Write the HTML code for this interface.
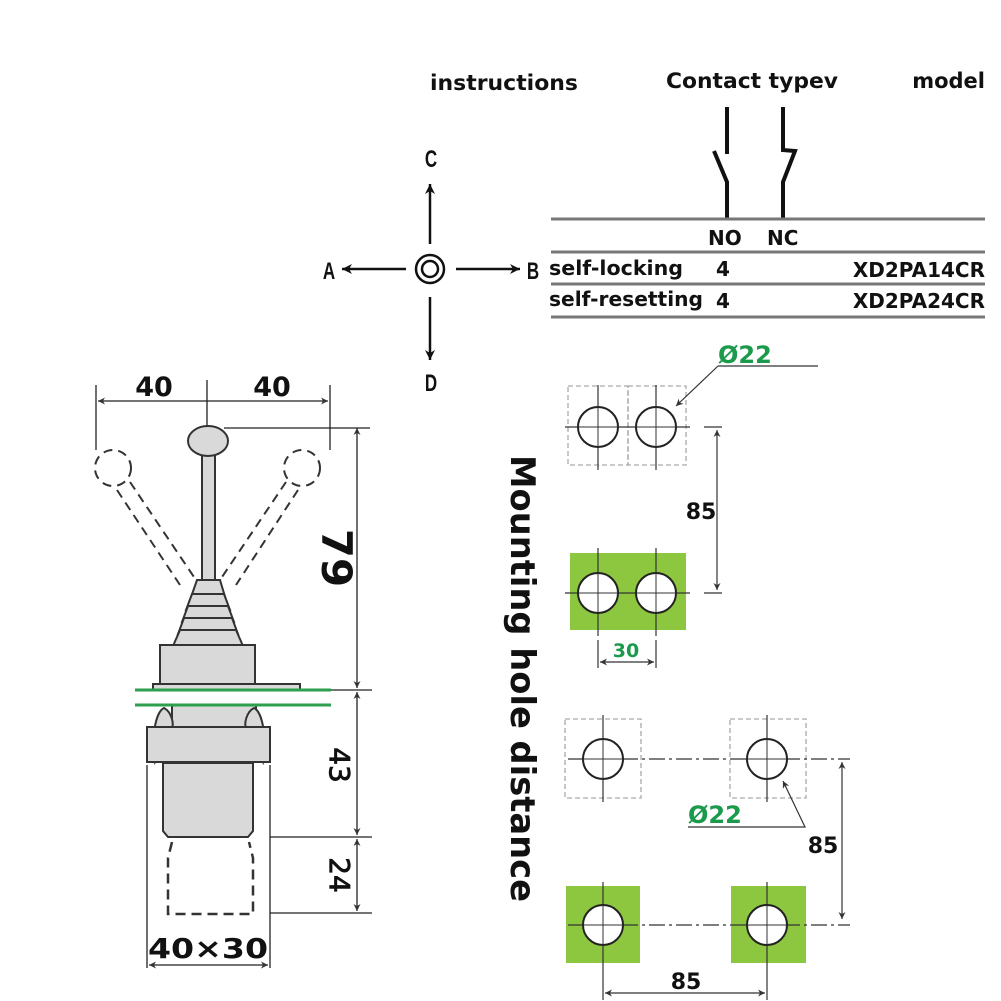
<!DOCTYPE html>
<html><head><meta charset="utf-8"><style>html,body{margin:0;padding:0;background:#fff}svg{display:block}</style></head>
<body>
<svg width="1001" height="1001" viewBox="0 0 1001 1001" xmlns="http://www.w3.org/2000/svg" font-family="'DejaVu Sans','Liberation Sans',sans-serif" font-weight="bold">
<defs>
<marker id="ar" viewBox="0 0 10 10" refX="10" refY="5" markerWidth="12" markerHeight="10" markerUnits="userSpaceOnUse" orient="auto-start-reverse"><path d="M0,0L10,5L0,10L3,5z" fill="#111"/></marker>
<marker id="as" viewBox="0 0 10 10" refX="10" refY="5" markerWidth="10" markerHeight="7" markerUnits="userSpaceOnUse" orient="auto-start-reverse"><path d="M0,0L10,5L0,10L3,5z" fill="#333"/></marker>
</defs>
<!-- headings -->
<text x="430" y="90" font-size="21" fill="#111" textLength="148" lengthAdjust="spacingAndGlyphs">instructions</text>
<text x="666" y="88" font-size="21" fill="#111" textLength="172" lengthAdjust="spacingAndGlyphs">Contact typev</text>
<text x="985" y="88" font-size="21" fill="#111" text-anchor="end">model</text>
<!-- contact symbols -->
<g stroke="#111" stroke-width="4" fill="none">
<path d="M727,107V154"/><path d="M714,151L727,182V219"/>
<path d="M783,107V150L795,151L783,182V219"/>
</g>
<!-- table -->
<g stroke="#777" stroke-width="3">
<path d="M551,219H985M551,252H985M551,284H985M551,317H985"/>
</g>
<text x="708" y="245" font-size="20" fill="#111">NO</text>
<text x="767" y="245" font-size="20" fill="#111">NC</text>
<text x="549" y="275" font-size="20" fill="#111" textLength="134" lengthAdjust="spacingAndGlyphs">self-locking</text>
<text x="716" y="276" font-size="20" fill="#111">4</text>
<text x="985" y="277" font-size="20" fill="#111" text-anchor="end">XD2PA14CR</text>
<text x="549" y="306" font-size="20" fill="#111" textLength="154" lengthAdjust="spacingAndGlyphs">self-resetting</text>
<text x="716" y="308" font-size="20" fill="#111">4</text>
<text x="985" y="308" font-size="20" fill="#111" text-anchor="end">XD2PA24CR</text>
<!-- direction cross -->
<g stroke="#111" stroke-width="2.5" fill="none">
<circle cx="430" cy="269" r="14"/><circle cx="430" cy="269" r="8"/>
<path d="M430,244V184" marker-end="url(#ar)"/>
<path d="M430,297V360" marker-end="url(#ar)"/>
<path d="M406,269H342" marker-end="url(#ar)"/>
<path d="M456,269H520" marker-end="url(#ar)"/>
</g>
<g font-family="'Liberation Sans',sans-serif" font-size="20" fill="#111" text-anchor="middle">
<text transform="translate(431,167) scale(0.85,1.2)">C</text>
<text transform="translate(431,391) scale(0.85,1.2)">D</text>
<text transform="translate(329,279) scale(0.85,1.2)">A</text>
<text transform="translate(533,279) scale(0.85,1.2)">B</text>
</g>
<!-- left drawing -->
<g stroke="#222" stroke-width="1.3" fill="none">
<path d="M96,385V450M207,380V432M330,385V450"/>
<path d="M207,401H98" marker-end="url(#as)"/><path d="M207,401H328" marker-end="url(#as)"/>
<path d="M224,428H370"/>
<path d="M357,428V688" marker-start="url(#as)" marker-end="url(#as)"/>
<path d="M255,690H372M270,837H372M270,913H372"/>
<path d="M357,692V835" marker-start="url(#as)" marker-end="url(#as)"/>
<path d="M357,839V911" marker-start="url(#as)" marker-end="url(#as)"/>
<path d="M147,765V968M270,765V968"/>
<path d="M149,965H268" marker-start="url(#as)" marker-end="url(#as)"/>
</g>
<text x="154" y="396" font-size="27" fill="#111" text-anchor="middle">40</text>
<text x="272" y="396" font-size="27" fill="#111" text-anchor="middle">40</text>
<text x="0" y="0" font-size="42" fill="#111" transform="translate(322,558) rotate(90)" text-anchor="middle">79</text>
<text x="0" y="0" font-size="28" fill="#111" transform="translate(330,765) rotate(90)" text-anchor="middle" font-weight="normal" stroke="#111" stroke-width="0.8">43</text>
<text x="0" y="0" font-size="28" fill="#111" transform="translate(330,875) rotate(90)" text-anchor="middle" font-weight="normal" stroke="#111" stroke-width="0.8">24</text>
<text x="208" y="958" font-size="28" fill="#111" text-anchor="middle" textLength="120" lengthAdjust="spacingAndGlyphs">40×30</text>
<!-- ghost levers -->
<g stroke="#333" stroke-width="2" fill="none" stroke-dasharray="9,6">
<circle cx="113" cy="468" r="18"/><circle cx="302" cy="468" r="18"/>
<path d="M117,490L180,585M130,482L196,580"/>
<path d="M298,490L236,585M286,482L220,580"/>
</g>
<!-- joystick -->
<g stroke="#333" stroke-width="2" fill="#d9d9d9">
<rect x="202" y="455" width="13" height="128"/>
<ellipse cx="208" cy="441" rx="20" ry="15"/>
<path d="M197,580H220L226,600H190Z"/>
<path d="M192,594H224L230,610H186Z"/>
<path d="M188,606H228L234,622H182Z"/>
<path d="M184,618H232L238,634H178Z"/>
<path d="M180,630H236L243,646H173Z"/>
<rect x="160" y="645" width="95" height="40"/>
<rect x="153" y="684" width="147" height="6"/>
<rect x="172" y="705" width="84" height="22"/>
<path d="M163,763H253V831L248,837H168L163,831Z"/>
<path d="M155,762C151,740 155,712 164,708C172,712 174,725 172,727Z"/>
<path d="M263,762C267,740 263,712 254,708C246,712 244,725 246,727Z"/>
<rect x="147" y="727" width="123" height="35"/>
</g>
<path d="M135,690H331M135,705H331" stroke="#2e9e4f" stroke-width="3"/>
<path d="M172,842L168,858V914H253V858L249,842" stroke="#333" stroke-width="2.5" fill="none" stroke-dasharray="10,6"/>
<!-- mounting hole distance -->
<text x="0" y="0" font-size="34" fill="#111" transform="translate(511,455) rotate(90)" textLength="447" lengthAdjust="spacingAndGlyphs" font-family="'DejaVu Sans',sans-serif">Mounting hole distance</text>
<!-- holes -->
<rect x="570" y="553" width="116" height="77" fill="#8dc63f"/>
<g stroke="#aaa" stroke-width="1.3" fill="none" stroke-dasharray="5,3">
<rect x="568" y="386" width="60" height="79"/><rect x="628" y="386" width="58" height="79"/>
<rect x="565" y="719" width="76" height="79"/><rect x="730" y="719" width="76" height="79"/>
</g>
<rect x="566" y="886" width="74" height="77" fill="#8dc63f"/>
<rect x="731" y="886" width="75" height="77" fill="#8dc63f"/>
<g stroke="#333" stroke-width="1.2" fill="none">
<path d="M565,427H690M598,385V470M656,385V470M704,427H722"/>
<path d="M565,593H690M598,548V636M656,548V636M704,593H722"/>
<path d="M598,640V668M656,640V668"/>
<path d="M600,662H654" marker-start="url(#as)" marker-end="url(#as)"/>
<path d="M717,430V590" marker-start="url(#as)" marker-end="url(#as)"/>
<path d="M718,366H818"/><path d="M718,366L676,406" marker-end="url(#as)"/>
<path d="M568,759H850" stroke-dasharray="16,4,3,4"/><path d="M568,925H850" stroke-dasharray="16,4,3,4"/>
<path d="M603,715V802M767,715V802M603,882V967M767,882V967"/>
<path d="M603,967V1000M767,967V1000"/>
<path d="M605,993H765" marker-start="url(#as)" marker-end="url(#as)"/>
<path d="M842,762V919" marker-start="url(#as)" marker-end="url(#as)"/>
<path d="M688,827H805L783,781" marker-end="url(#as)"/>
</g>
<g stroke="#222" stroke-width="2" fill="#fff">
<circle cx="598" cy="427" r="20"/><circle cx="656" cy="427" r="20"/>
<circle cx="598" cy="593" r="20"/><circle cx="656" cy="593" r="20"/>
<circle cx="603" cy="759" r="20"/><circle cx="767" cy="759" r="20"/>
<circle cx="603" cy="925" r="20"/><circle cx="767" cy="925" r="20"/>
</g>
<g stroke="#333" stroke-width="1" fill="none">
<path d="M578,427H618M598,407V447M636,427H676M656,407V447M578,593H618M598,573V613M636,593H676M656,573V613"/>
<path d="M583,759H623M603,739V779M747,759H787M767,739V779M583,925H623M603,905V945M747,925H787M767,905V945"/>
</g>
<text x="701" y="519" font-size="22" fill="#111" text-anchor="middle">85</text>
<text x="626" y="657" font-size="19" fill="#1a9a4a" text-anchor="middle">30</text>
<text x="718" y="363" font-size="24" fill="#1a9a4a">Ø22</text>
<text x="688" y="823" font-size="24" fill="#1a9a4a">Ø22</text>
<text x="823" y="853" font-size="22" fill="#111" text-anchor="middle">85</text>
<text x="686" y="989" font-size="22" fill="#111" text-anchor="middle">85</text>
</svg>
</body></html>
